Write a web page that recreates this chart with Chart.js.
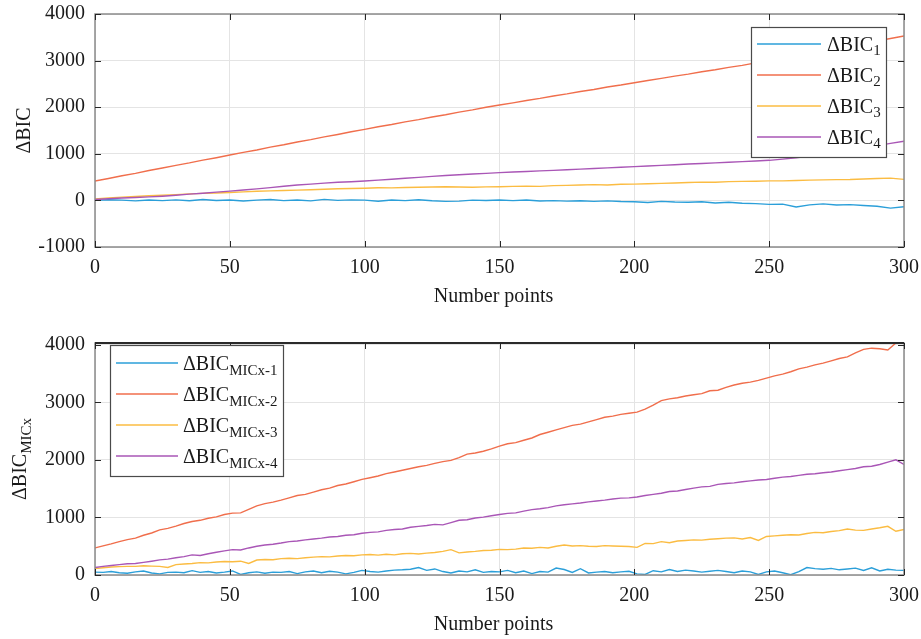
<!doctype html>
<html>
<head>
<meta charset="utf-8">
<title>Delta BIC</title>
<script src="https://cdn.jsdelivr.net/npm/chart.js@4.4.1/dist/chart.umd.min.js"></script>
<style>
body { margin: 0; background: #fff; }
.box { position: absolute; left: 0; width: 921px; }
</style>
</head>
<body>
<div class="box" style="top:0;height:320px"><canvas id="chartTop" width="921" height="320"></canvas></div>
<div class="box" style="top:320px;height:319px"><canvas id="chartBottom" width="921" height="319"></canvas></div>

<script>
// ---- data ----
var topX = [0,5,10,15,20,25,30,35,40,45,50,55,60,65,70,75,80,85,90,95,100,105,110,115,120,125,130,135,140,145,150,
  155,160,165,170,175,180,185,190,195,200,205,210,215,220,225,230,235,240,245,250,255,260,265,270,275,280,285,290,295,300];

var bic1 = [0,15,5,-10,8,-5,12,-8,20,-2,10,-12,5,18,-5,8,-10,22,0,12,5,-18,10,-5,15,-8,-20,-15,5,-2,10,
  -5,8,-12,-5,-15,-8,-20,-10,-25,-30,-45,-20,-35,-40,-30,-55,-40,-60,-70,-85,-80,-140,-95,-75,-100,-90,-110,-125,-165,-135];
var bic2 = [416,470,530,581,642,694,752,804,863,916,974,1031,1082,1142,1193,1252,1303,1362,1414,1472,1525,1580,1628,1685,1733,1789,1838,1894,1942,1998,2047,
  2093,2145,2189,2241,2285,2337,2381,2433,2476,2526,2574,2618,2668,2710,2762,2804,2854,2898,2952,3000,3050,3106,3156,3212,3262,3318,3368,3424,3473,3528];
var bic3 = [30,55,70,85,100,112,125,140,150,160,170,182,195,205,212,220,228,240,250,255,262,270,268,278,282,286,292,288,282,290,292,
  300,306,300,318,322,330,338,332,345,350,358,365,372,385,393,390,402,408,412,420,418,428,436,440,445,448,458,470,478,452];
var bic4 = [20,35,50,62,75,90,110,135,155,178,200,222,248,275,305,330,350,370,388,400,415,435,455,475,495,515,535,550,565,580,595,
  608,620,633,645,658,672,685,698,712,725,738,752,765,780,792,805,818,832,845,860,885,915,950,990,1035,1080,1130,1175,1225,1270];

var botX = [0,3,6,9,12,15,18,21,24,27,30,33,36,39,42,45,48,51,54,57,60,63,66,69,72,75,78,81,84,87,90,93,96,99,
  102,105,108,111,114,117,120,123,126,129,132,135,138,141,144,147,150,153,156,159,162,165,168,171,174,177,180,183,186,189,192,195,198,
  201,204,207,210,213,216,219,222,225,228,231,234,237,240,243,246,249,252,255,258,261,264,267,270,273,276,279,282,285,288,291,294,297,300];

var mic1 = [50,45,60,40,30,55,70,35,20,45,50,40,75,45,60,35,50,70,10,40,55,30,50,45,60,25,55,70,40,65,50,20,45,80,
  60,50,70,85,90,100,130,80,105,60,35,70,55,90,45,60,55,80,40,70,25,60,50,120,95,45,110,35,50,60,40,55,65,
  20,10,75,55,95,60,85,70,50,65,80,60,40,70,55,10,55,70,40,5,60,130,110,100,115,90,105,120,80,125,70,100,85,80];
var mic2 = [470,505,540,580,615,640,690,730,785,810,850,895,930,950,985,1010,1050,1075,1080,1140,1200,1240,1265,1300,1340,1380,1400,1440,1480,1510,1555,1580,1620,1660,
  1690,1720,1760,1790,1820,1850,1880,1905,1940,1970,1990,2040,2100,2120,2150,2190,2240,2280,2300,2340,2380,2440,2480,2520,2560,2600,2620,2660,2700,2740,2760,2790,2810,
  2830,2880,2950,3030,3060,3080,3110,3130,3150,3200,3210,3260,3300,3330,3350,3380,3420,3460,3490,3530,3580,3610,3650,3680,3720,3760,3790,3860,3920,3940,3930,3910,4030,4040];
var mic3 = [110,125,140,145,150,150,160,155,150,130,180,190,200,215,210,225,235,230,240,200,260,270,265,285,290,285,300,310,320,315,330,340,335,350,
  355,345,360,350,370,375,365,380,390,410,440,385,400,410,425,430,445,440,450,470,465,480,470,500,520,505,510,500,495,510,505,500,495,
  480,550,545,580,560,590,600,610,605,620,630,640,645,625,650,600,670,680,690,700,695,720,740,735,755,770,800,780,775,800,820,845,760,790];
var mic4 = [130,150,165,180,195,200,220,240,262,275,300,320,350,340,370,395,420,440,435,470,500,520,535,555,580,590,610,625,640,660,670,690,700,725,
  740,750,775,790,800,830,845,860,880,870,910,950,960,990,1005,1030,1050,1070,1080,1110,1135,1150,1170,1200,1220,1235,1250,1270,1285,1300,1320,1335,1340,
  1355,1380,1400,1420,1450,1460,1485,1510,1530,1540,1575,1590,1600,1620,1635,1650,1660,1680,1700,1710,1730,1750,1760,1775,1790,1810,1830,1850,1880,1890,1920,1960,2000,1920];

var xTicks = [0, 50, 100, 150, 200, 250, 300];
var topYTicks = [-1000, 0, 1000, 2000, 3000, 4000];
var botYTicks = [0, 1000, 2000, 3000, 4000];

var colors = ['#2b9fd9', '#f06e4c', '#fbbc42', '#a956b6'];
var FONT = '"Liberation Serif", "Times New Roman", serif';

function pts(xs, ys) {
  return xs.map(function (x, i) { return { x: x, y: ys[i] }; });
}

function makeSets(xs, series, subs) {
  return series.map(function (s, i) {
    return {
      label: 'ΔBIC', sub: subs[i],
      data: pts(xs, s),
      borderColor: colors[i], backgroundColor: colors[i],
      borderWidth: 1.4, pointRadius: 0, tension: 0, fill: false,
      order: series.length - i
    };
  });
}

// draws matlab style frame, inward ticks, legend and axis titles
function decor(opt) {
  return {
    id: 'decor',
    afterDatasetsDraw: function (chart) {
      var ctx = chart.ctx, a = chart.chartArea;
      var xs = chart.scales.x, ys = chart.scales.y;
      ctx.save();

      // frame
      ctx.strokeStyle = '#8a8a8a';
      ctx.lineWidth = 1.5;
      ctx.strokeRect(a.left, a.top, a.right - a.left, a.bottom - a.top);
      if (opt.darkTop) {
        ctx.strokeStyle = '#2a2a2a';
        ctx.lineWidth = 2;
        ctx.beginPath(); ctx.moveTo(a.left, a.top); ctx.lineTo(a.right, a.top); ctx.stroke();
      }

      // inward ticks
      ctx.strokeStyle = '#262626';
      ctx.lineWidth = 1;
      ctx.beginPath();
      xTicks.forEach(function (v) {
        var p = Math.round(xs.getPixelForValue(v)) + 0.5;
        ctx.moveTo(p, a.bottom); ctx.lineTo(p, a.bottom - 6);
        ctx.moveTo(p, a.top); ctx.lineTo(p, a.top + 6);
      });
      opt.yTicks.forEach(function (v) {
        var p = Math.round(ys.getPixelForValue(v)) + 0.5;
        ctx.moveTo(a.left, p); ctx.lineTo(a.left + 6, p);
        ctx.moveTo(a.right, p); ctx.lineTo(a.right - 6, p);
      });
      ctx.stroke();

      // legend
      var L = opt.legend;
      var bx = L.fromRight ? a.right - L.inset - L.w : a.left + L.inset;
      var by = a.top + L.top;
      ctx.fillStyle = '#fff';
      ctx.fillRect(bx, by, L.w, L.h);
      ctx.strokeStyle = '#4a4a4a';
      ctx.lineWidth = 1.2;
      ctx.strokeRect(bx + 0.5, by + 0.5, L.w, L.h);
      chart.data.datasets.forEach(function (ds, i) {
        var cy = by + L.first + i * L.row;
        ctx.strokeStyle = ds.borderColor;
        ctx.lineWidth = 1.6;
        ctx.beginPath(); ctx.moveTo(bx + 6, cy); ctx.lineTo(bx + L.lineLen, cy); ctx.stroke();
        ctx.fillStyle = '#1a1a1a';
        ctx.textAlign = 'left';
        ctx.textBaseline = 'alphabetic';
        ctx.font = '20px ' + FONT;
        var tx = bx + L.textX;
        ctx.fillText(ds.label, tx, cy + 7);
        var w = ctx.measureText(ds.label).width;
        ctx.font = L.subSize + 'px ' + FONT;
        ctx.fillText(ds.sub, tx + w, cy + 7 + L.subDrop);
      });

      // x title
      ctx.fillStyle = '#1a1a1a';
      ctx.font = '20px ' + FONT;
      ctx.textAlign = 'center';
      ctx.fillText('Number points', (a.left + a.right) / 2 - 6, a.bottom + 55);

      // y title (rotated)
      ctx.save();
      var cy2 = (a.top + a.bottom) / 2;
      ctx.translate(opt.yTitleX, cy2);
      ctx.rotate(-Math.PI / 2);
      ctx.font = '20px ' + FONT;
      var mw = ctx.measureText('ΔBIC').width;
      ctx.font = '15px ' + FONT;
      var sw = opt.yTitleSub ? ctx.measureText(opt.yTitleSub).width : 0;
      var start = -(mw + sw) / 2;
      ctx.textAlign = 'left';
      ctx.font = '20px ' + FONT;
      ctx.fillText('ΔBIC', start, 0);
      if (opt.yTitleSub) {
        ctx.font = '15px ' + FONT;
        ctx.fillText(opt.yTitleSub, start + mw, 5);
      }
      ctx.restore();

      ctx.restore();
    }
  };
}

function makeChart(id, sets, yMin, yMax, yTicks, padTop, xHeight, extra) {
  var tickFont = { family: FONT, size: 20 };
  return new Chart(document.getElementById(id), {
    type: 'line',
    data: { datasets: sets },
    options: {
      responsive: false,
      animation: false,
      layout: { padding: { top: padTop, right: 17, left: 0, bottom: 0 } },
      plugins: { legend: { display: false }, tooltip: { enabled: false } },
      scales: {
        x: {
          type: 'linear', min: 0, max: 300,
          afterBuildTicks: function (s) { s.ticks = xTicks.map(function (v) { return { value: v }; }); },
          afterFit: function (s) { s.height = xHeight; s.paddingLeft = 0; s.paddingRight = 0; },
          grid: { color: '#e4e4e4', lineWidth: 1, drawTicks: false },
          border: { display: false },
          ticks: { font: tickFont, color: '#1a1a1a', padding: 9, maxRotation: 0,
            callback: function (v) { return String(v); } }
        },
        y: {
          type: 'linear', min: yMin, max: yMax,
          afterBuildTicks: function (s) { s.ticks = yTicks.map(function (v) { return { value: v }; }); },
          afterFit: function (s) { s.width = 95; s.paddingTop = 0; s.paddingBottom = 0; },
          grid: { color: '#e4e4e4', lineWidth: 1, drawTicks: false },
          border: { display: false },
          ticks: { font: tickFont, color: '#1a1a1a', padding: 10,
            callback: function (v) { return String(v); } }
        }
      }
    },
    plugins: [decor(extra)]
  });
}

makeChart('chartTop', makeSets(topX, [bic1, bic2, bic3, bic4], ['1', '2', '3', '4']),
  -1000, 4000, topYTicks, 14, 73, {
    yTicks: topYTicks, yTitleX: 30, yTitleSub: '',
    legend: { fromRight: true, inset: 18, top: 13, w: 135, h: 130, first: 17, row: 31, lineLen: 70, textX: 76, subSize: 15, subDrop: 4 }
  });

makeChart('chartBottom', makeSets(botX, [mic1, mic2, mic3, mic4], ['MICx-1', 'MICx-2', 'MICx-3', 'MICx-4']),
  0, 4030, botYTicks, 23, 64, {
    yTicks: botYTicks, yTitleX: 26, yTitleSub: 'MICx', darkTop: true,
    legend: { fromRight: false, inset: 15, top: 2, w: 173, h: 131, first: 18, row: 31, lineLen: 68, textX: 73, subSize: 15, subDrop: 5 }
  });
</script>
</body>
</html>
